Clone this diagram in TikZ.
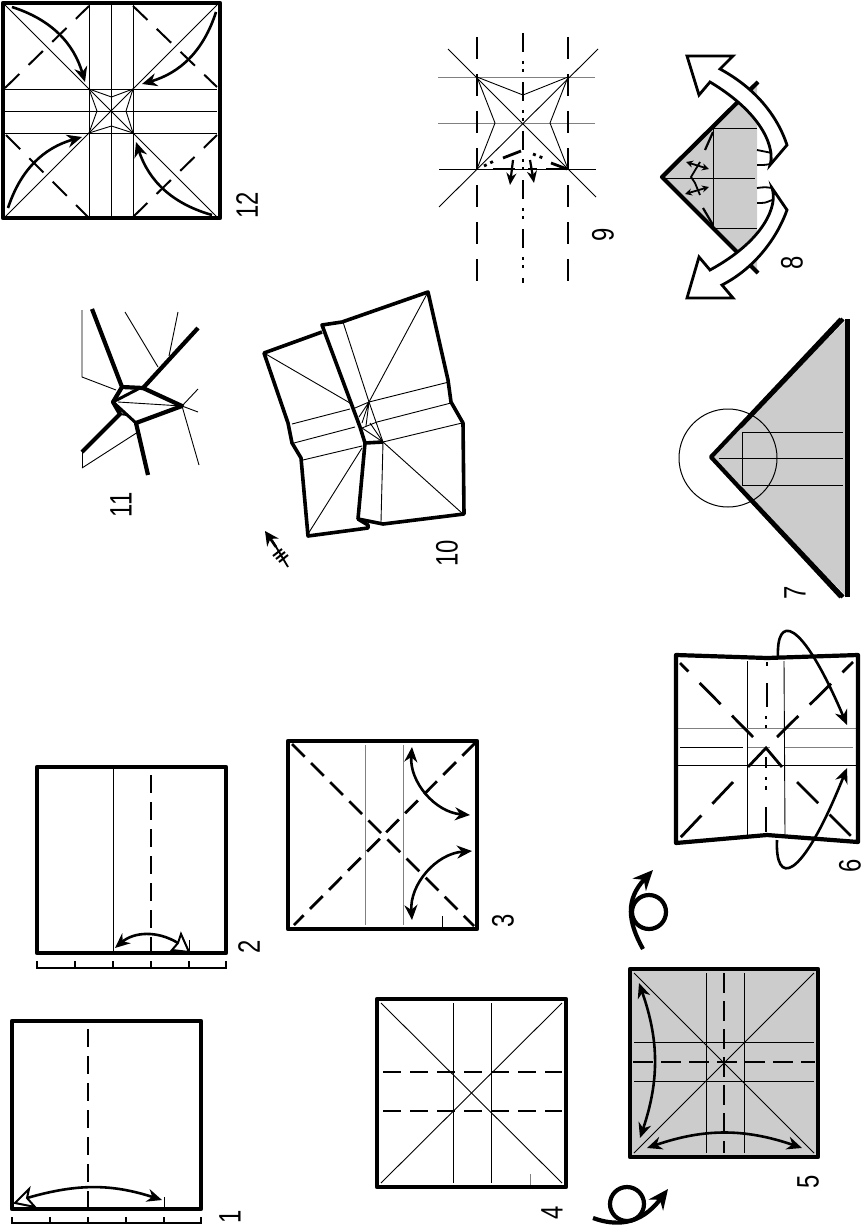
\documentclass[tikz,border=0pt]{standalone}
\usepackage{xcolor}
\usepackage{fontspec}
\setmainfont{Liberation Sans}
\usetikzlibrary{arrows.meta}
\definecolor{papergray}{gray}{0.8}

\begin{document}
\begin{tikzpicture}[
    x=1pt, y=-1pt,
    edge/.style={draw, line width=4.2pt, line join=round},
    crease/.style={draw, line width=0.9pt},
    valley/.style={draw, line width=2.8pt, dash pattern=on 18pt off 9pt},
    valleythin/.style={draw, line width=2pt, dash pattern=on 20pt off 13pt},
    ridge/.style={draw, line width=2.8pt},
    fold/.style={draw, line width=2.6pt, -{Stealth[length=15pt,width=13pt]}},
    unfold/.style={draw, line width=2.6pt, {Stealth[length=15pt,width=13pt]}-{Stealth[length=15pt,width=13pt]}},
    openhead/.style={draw, fill=white, line width=2pt, line join=miter},
    curl/.style={draw, line width=4.2pt, -{Stealth[length=20pt,width=18pt]}},
    bigarrow/.style={draw, fill=white, line width=2.8pt, line join=miter},
    tiny/.style={draw, line width=1.8pt, {Stealth[length=7pt,width=7pt]}-{Stealth[length=7pt,width=7pt]}},
    ruler/.style={draw, line width=1.5pt},
    stepno/.style={font=\fontsize{31}{31}\selectfont, rotate=90, xscale=0.77, transform shape, inner sep=0pt}
]
\useasboundingbox (0,0) rectangle (866,1228);

% Step 1
\draw[valley] (88,1029) -- (88,1207);
\draw[crease] (164,1197) -- (164,1209);
\draw[edge] (12,1021) rectangle (201,1209);
\draw[fold] (27,1198) to[bend left=17] (162,1200);
\draw[openhead] (15,1203) -- (29,1189) -- (27,1198) -- (35,1207) -- cycle;
\draw[ruler] (12,1217) -- (12,1223) -- (201,1223) -- (201,1217);
\foreach \x in {50,88,126,164} \draw[ruler] (\x,1217) -- (\x,1223);
\node[stepno] (no1) at (230,1217) {1};

% Step 2
\draw[crease] (113,767) -- (113,953);
\draw[crease] (189,940) -- (189,953);
\draw[valley] (151,775) -- (151,951);
\draw[edge] (37,767) rectangle (226,953);
\draw[fold] (178,943) to[bend right=36] (115,948);
\draw[openhead] (189,952) -- (181,934) -- (178,943) -- (172,950) -- cycle;
\draw[ruler] (37,961) -- (37,968) -- (226,968) -- (226,961);
\foreach \x in {75,113,151,189} \draw[ruler] (\x,961) -- (\x,968);
\node[stepno] (no2) at (249,947) {2};

% Step 3
\draw[crease, gray] (365,745) -- (365,925);
\draw[crease, gray] (403,745) -- (403,925);
\draw[crease] (442,916) -- (442,929);
\draw[valley] (292,744) -- (474,926);
\draw[valley] (475,743) -- (294,925);
\draw[edge] (288,741) rectangle (477,929);
\draw[unfold] (412,747) to[bend right=45] (470,815);
\draw[unfold] (412,920) to[bend left=45] (472,851);
\node[stepno] (no3) at (503,921) {3};

% Step 4
\draw[crease] (381,1003) -- (562,1183);
\draw[crease] (562,1003) -- (381,1183);
\draw[crease] (453,1003) -- (453,1183);
\draw[crease] (491,1003) -- (491,1183);
\draw[crease, gray] (530,1174) -- (530,1187);
\draw[valley] (383,1072) -- (562,1072);
\draw[valley] (383,1111) -- (562,1111);
\draw[edge] (377,999) rectangle (566,1187);
\node[stepno] (no4) at (552,1213) {4};

% Step 5
\fill[papergray] (630,969) rectangle (818,1157);
\draw[crease] (634,973) -- (814,1153);
\draw[crease] (814,973) -- (634,1153);
\draw[crease] (706,973) -- (706,1153);
\draw[crease] (744,973) -- (744,1153);
\draw[crease] (634,1042) -- (814,1042);
\draw[crease] (634,1081) -- (814,1081);
\draw[valley, dash pattern=on 20pt off 8pt] (724,973) -- (724,1153);
\draw[valley, dash pattern=on 20pt off 8pt] (633,1062) -- (815,1062);
\draw[edge] (630,969) rectangle (818,1157);
\draw[unfold] (639,983) to[bend left=19] (640,1138);
\draw[unfold] (647,1148) to[bend left=19] (802,1148);
\node[stepno] (no5) at (808,1182) {5};

% turn over marks
\draw[line width=4.2pt] (649,912) circle (17);
\draw[curl] (643,949) .. controls (628,922) and (625,900) .. (653,870);
\draw[line width=4.2pt] (627,1204) circle (17);
\draw[curl] (593,1218) .. controls (615,1226) and (640,1226) .. (668,1189);

% Step 6
\draw[crease] (747,661) -- (747,835);
\draw[crease] (784,661) -- (785,835);
\draw[crease, gray] (677,728) -- (857,728);
\draw[crease] (680,747) -- (743,747);
\draw[crease, gray] (748,747) -- (770,747) (785,747) -- (853,747);
\draw[crease] (677,765) -- (857,765);
\draw[valley, dash pattern=on 30pt off 16pt] (753,737) -- (680,663);
\draw[valley, dash pattern=on 30pt off 16pt] (777,737) -- (853,662);
\draw[valley, dash pattern=on 30pt off 16pt] (733,782) -- (680,838);
\draw[valley, dash pattern=on 30pt off 16pt] (797,782) -- (852,837);
\draw[ridge] (767,662) -- (767,666) (767,683) -- (767,707) (766,716) -- (766,719) (766,725) -- (766,728)
    (766,757) -- (766,768) (766,777) -- (766,780) (766,786) -- (766,790) (766,807) -- (766,832);
\draw[ridge] (748,767) -- (766,748) -- (782,767);
\draw[edge] (676,655) -- (767,658) -- (858,655) -- (858,842) -- (767,835) -- (676,843) -- cycle;
\draw[fold] (778,658) .. controls (776,615) and (800,615) .. (847,725);
\draw[fold] (777,840) .. controls (775,885) and (800,885) .. (847,768);
\node[stepno] (no6) at (850,866) {6};

% Step 7
\fill[papergray] (711,457) -- (847,319) -- (847,597) -- cycle;
\draw[crease] (719,458) -- (843,458);
\draw[crease] (742,432) -- (843,432);
\draw[crease] (742,485) -- (843,485);
\draw[crease] (742,432) -- (742,485);
\draw[line width=1pt] (728,458) circle (49);
\draw[edge] (841,319) -- (711,457) -- (841,597);
\draw[edge] (843,319) -- (740,427);
\draw[edge] (843,597) -- (740,488);
\draw[line width=5pt] (847,319) -- (847,597);
\node[stepno] (no7) at (795,593) {7};

% Step 8
\fill[papergray] (662,177) -- (757,82) -- (757,273) -- cycle;
\draw[crease] (713,128) -- (757,128);
\draw[crease] (662,178) -- (755,178);
\draw[crease] (713,228) -- (757,228);
\draw[crease] (713,128) -- (713,228);
\draw[edge] (758,82) -- (662,177) -- (758,273);
\draw[bigarrow] (687,56) -- (733,56) -- (720,69) .. controls (755,88) and (777,115) .. (787,145) -- (770,165)
    .. controls (775,150) and (765,115) .. (710,82) -- (699,95) -- cycle;
\draw[bigarrow] (687,298) -- (733,298) -- (722,285) .. controls (755,268) and (777,238) .. (787,210) -- (772,188)
    .. controls (778,205) and (765,240) .. (710,270) -- (699,257) -- cycle;
\draw[line width=1.8pt] (757,150) .. controls (765,152) .. (772,153);
\draw[line width=1.8pt] (757,165) .. controls (765,165) .. (770,164);
\draw[line width=1.8pt] (757,188) .. controls (765,187) .. (772,188);
\draw[line width=1.8pt] (757,203) .. controls (765,203) .. (772,200);
\draw[line width=2.2pt] (713,132) -- (705,150);
\draw[line width=2.2pt] (703,208) -- (713,225);
\draw[tiny] (686,162) -- (709,169);
\draw[tiny] (709,187) -- (685,194);
\draw[line width=1.8pt] (700,162) -- (691,177) -- (695,183) -- (700,195);
\node[stepno] (no8) at (792,263) {8};

% Step 9
\draw[crease, gray] (438,77) -- (595,77);
\draw[crease, gray] (438,123) -- (595,123);
\draw[crease] (439,169) -- (596,169);
\draw[crease] (448,49) -- (596,197);
\draw[crease] (598,49) -- (439,207);
\draw[crease] (477,77) -- (523,95) -- (568,77);
\draw[crease] (477,77) -- (495,123) -- (477,169);
\draw[crease] (568,77) -- (550,123) -- (568,169);
\draw[valley, dash pattern=on 22pt off 15pt] (477,37) -- (477,283);
\draw[valley, dash pattern=on 22pt off 15pt] (568,37) -- (568,283);
\draw[ridge, dash pattern=on 19pt off 9pt on 3pt off 5pt on 3pt off 10pt] (523,33) -- (523,283);
\draw[ridge] (503,158) -- (521,151);
\draw[ridge] (551,163) -- (567,169);
\draw[ridge] (493,169) -- (515,169) (528,169) -- (537,169) (546,169) -- (563,169);
\draw[ridge, dash pattern=on 3pt off 4pt] (484,166) -- (494,161);
\draw[ridge, dash pattern=on 3pt off 4pt] (533,154) -- (543,158);
\draw[draw, line width=2.2pt, -{Stealth[length=12pt,width=10pt]}] (513,160) -- (510,185);
\draw[draw, line width=2.2pt, -{Stealth[length=12pt,width=10pt]}] (530,160) -- (534,183);
\node[stepno] (no9) at (603,235) {9};

% Step 10
\draw[crease] (264,353) -- (350,403);
\draw[crease] (428,292) -- (369,402);
\draw[crease] (343,322) -- (369,402) -- (383,442);
\draw[crease] (383,442) -- (381,522);
\draw[crease] (383,442) -- (463,514);
\draw[crease] (383,442) -- (462,423);
\draw[crease] (369,402) -- (449,382);
\draw[crease] (377,422) -- (451,403);
\draw[crease] (292,424) -- (350,409);
\draw[crease] (294,443) -- (355,427);
\draw[crease] (303,460) -- (362,446);
\draw[crease] (308,534) -- (362,448);
\draw[crease] (369,402) -- (355,408) (369,402) -- (359,417) (369,402) -- (362,423) (369,402) -- (366,426);
\draw[crease] (362,428) -- (377,422) (362,428) -- (383,442) (370,423) -- (383,442);
\draw[edge, line width=3.6pt] (322,332) -- (264,353) -- (288,423) -- (292,443) -- (301,458) -- (308,536) -- (368,528) -- (368,525) -- (358,519);
\draw[edge, line width=3.6pt] (322,325) -- (342,322) -- (428,292) -- (448,380) -- (451,402) -- (463,423) -- (464,514) -- (383,524) -- (358,519) -- (365,443) -- (360,427) -- cycle;
\draw[edge, line width=3.6pt] (365,443) -- (383,442);
\draw[line width=1.8pt] (288,567) -- (272,540);
\draw[line width=2.6pt, -{Stealth[length=14pt,width=14pt]}] (276,547) -- (265,531);
\draw[line width=2pt] (273,556) -- (282,549) (276,559) -- (285,552) (279,562) -- (288,555);
\node[stepno] (no10) at (447,553) {10};

% Step 11
\draw[crease] (82,310) -- (82,377) -- (116,390);
\draw[crease] (125,312) -- (158,367);
\draw[crease] (178,312) -- (169,356);
\draw[crease] (198,389) -- (182,406) -- (198,412);
\draw[crease] (182,406) -- (199,465);
\draw[crease] (118,402) -- (182,406);
\draw[crease] (82,468) -- (138,432);
\draw[crease] (82,452) -- (82,468);
\draw[edge] (92,309) -- (122,387) -- (113,402) -- (120,414) -- (82,452);
\draw[edge] (122,387) -- (143,388) -- (198,328);
\draw[edge] (143,388) -- (182,406) -- (136,423) -- (148,475);
\draw[edge, line width=3pt] (113,402) -- (140,388);
\draw[edge, line width=3pt] (113,402) -- (136,423);
\draw[edge, line width=2pt] (120,414) -- (127,415);
\node[stepno] (no11) at (121,505) {11};

% Step 12
\draw[crease] (5,5) -- (89,89) (217,5) -- (133,89) (5,217) -- (89,133) (217,217) -- (133,133);
\draw[crease] (89,5) -- (89,217);
\draw[crease] (111.5,5) -- (111.5,217);
\draw[crease] (133,5) -- (133,217);
\draw[crease] (5,89) -- (217,89);
\draw[crease] (5,111) -- (217,111);
\draw[crease] (5,133) -- (217,133);
\draw[crease] (89,89) -- (133,133) (133,89) -- (89,133);
\draw[crease] (89,89) -- (111.5,97) -- (133,89) -- (126,111) -- (133,133) -- (111.5,126) -- (89,133) -- (97,111) -- cycle;
\draw[valleythin] (5,88) -- (89,6);
\draw[valleythin] (133,6) -- (217,87);
\draw[valleythin] (6,135) -- (88,217);
\draw[valleythin] (133,217) -- (217,135);
\draw[edge] (3,3) rectangle (220,218);
\draw[fold] (12,7) to[bend left=28] (85,82);
\draw[fold] (216,12) to[bend left=28] (142,84);
\draw[fold] (8,208) to[bend left=28] (82,137);
\draw[fold] (212,215) to[bend left=28] (136,142);
\node[stepno] (no12) at (247,205) {12};

\end{tikzpicture}
\end{document}
